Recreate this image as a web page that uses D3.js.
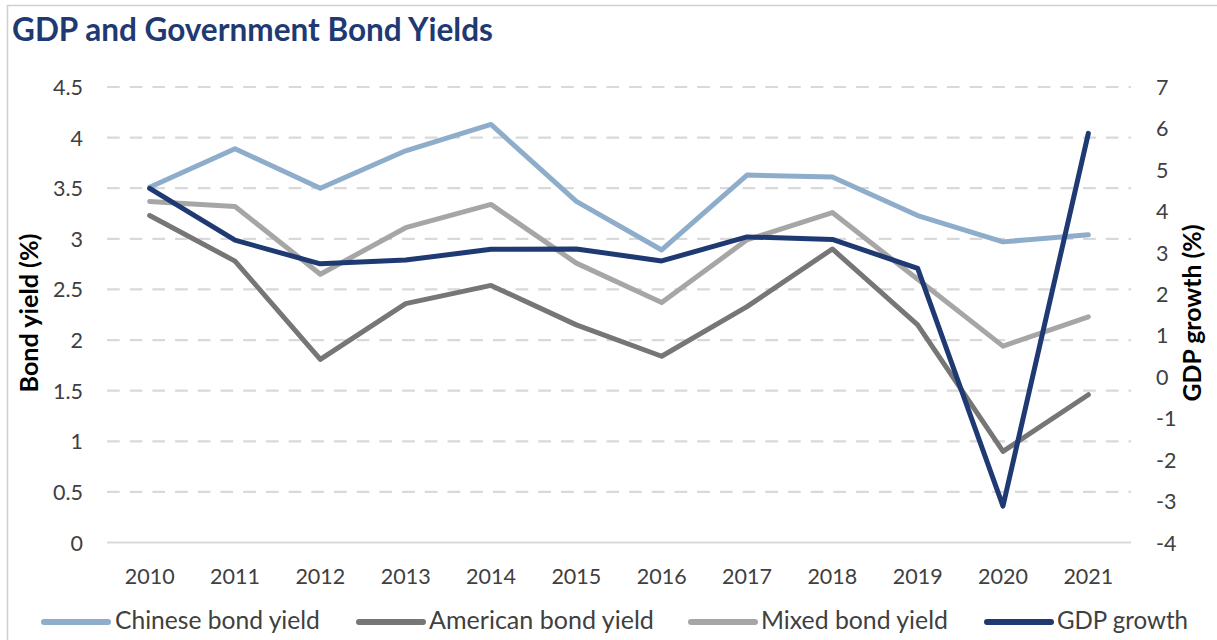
<!DOCTYPE html>
<html>
<head>
<meta charset="utf-8">
<script src="https://cdn.jsdelivr.net/npm/d3@7"></script>
<style>
  html, body { margin: 0; padding: 0; background: #fff; }
  svg { display: block; font-family: Lato, "Open Sans", sans-serif; }
</style>
</head>
<body>
<svg id="chart" width="1217" height="640"></svg>
<script>
const years = ["2010","2011","2012","2013","2014","2015","2016","2017","2018","2019","2020","2021"];
const chineseYield  = [3.51, 3.89, 3.50, 3.87, 4.13, 3.37, 2.89, 3.63, 3.61, 3.23, 2.97, 3.04];
const americanYield = [3.23, 2.78, 1.81, 2.36, 2.54, 2.15, 1.84, 2.33, 2.90, 2.15, 0.90, 1.46];
const mixedYield    = [3.37, 3.32, 2.65, 3.11, 3.34, 2.76, 2.37, 2.99, 3.26, 2.60, 1.94, 2.23];
const gdpGrowth     = [4.55, 3.30, 2.73, 2.82, 3.08, 3.09, 2.80, 3.38, 3.32, 2.62, -3.12, 5.88];
const leftTicks  = [0, 0.5, 1, 1.5, 2, 2.5, 3, 3.5, 4, 4.5];
const rightTicks = [-4, -3, -2, -1, 0, 1, 2, 3, 4, 5, 6, 7];
const seriesNames = ["Chinese bond yield", "American bond yield", "Mixed bond yield", "GDP growth"];

const colors = ["#8EADCB", "#767676", "#A6A6A6", "#1F3A73"];
const textColor = "#404040";

const svg = d3.select("#chart");

// chart frame
svg.append("path")
  .attr("d", "M7.5,640 L7.5,5.5 L1217,5.5")
  .attr("fill", "none").attr("stroke", "#D0D0D0").attr("stroke-width", 1.5);

const plot = { left: 107, right: 1131, top: 87, bottom: 542.5 };

const x = d3.scaleBand().domain(years).range([plot.left, plot.right]);
const yL = d3.scaleLinear().domain([0, 4.5]).range([plot.bottom, plot.top]);
const yR = d3.scaleLinear().domain([-4, 7]).range([plot.bottom, plot.top]);

// gridlines
const grid = svg.append("g");
grid.selectAll("line").data(leftTicks).join("line")
  .attr("x1", plot.left).attr("x2", plot.right)
  .attr("y1", d => yL(d)).attr("y2", d => yL(d))
  .attr("stroke", "#D9D9D9").attr("stroke-width", 2.2)
  .attr("stroke-dasharray", d => d === 0 ? null : "12.7,10");

const tickFont = "21.5px";

// left axis
const leftAxis = d3.axisLeft(yL).tickValues(leftTicks).tickSize(0).tickPadding(0)
  .tickFormat(d => String(d));
const gL = svg.append("g").attr("transform", `translate(83,0)`).call(leftAxis);
gL.select(".domain").remove();
gL.selectAll("text").attr("fill", textColor).style("font-size", tickFont)
  .style("font-family", "Lato, sans-serif").attr("dy", "0.35em");

// right axis
const rightAxis = d3.axisRight(yR).tickValues(rightTicks).tickSize(0).tickPadding(0)
  .tickFormat(d => String(d));
const gR = svg.append("g").attr("transform", `translate(1156,0)`).call(rightAxis);
gR.select(".domain").remove();
gR.selectAll("text").attr("fill", textColor).style("font-size", tickFont)
  .style("font-family", "Lato, sans-serif").attr("dy", "0.35em");

// bottom axis
const bottomAxis = d3.axisBottom(x).tickSize(0).tickPadding(0);
const gB = svg.append("g").attr("transform", `translate(0,569)`).call(bottomAxis);
gB.select(".domain").remove();
gB.selectAll("text").attr("fill", textColor).style("font-size", tickFont)
  .style("font-family", "Lato, sans-serif").attr("dy", "0.71em");

function fitWidth(sel, target) {
  const node = sel.node();
  const fs = parseFloat(sel.style("font-size"));
  const w = node.getComputedTextLength();
  sel.style("font-size", (fs * target / w).toFixed(2) + "px");
}

// title
const title = svg.append("text")
  .attr("x", 12).attr("y", 41)
  .attr("fill", "#1F3A73").attr("font-weight", "bold")
  .style("font-size", "24px")
  .text("GDP and Government Bond Yields");
fitWidth(title, 481);

// axis titles
const lt = svg.append("text")
  .attr("transform", "translate(38,313) rotate(-90)")
  .attr("text-anchor", "middle").attr("font-weight", "bold")
  .attr("fill", "#000").style("font-size", "19px")
  .text("Bond yield (%)");
fitWidth(lt, 159);
const rt = svg.append("text")
  .attr("transform", "translate(1201,313) rotate(-90)")
  .attr("text-anchor", "middle").attr("font-weight", "bold")
  .attr("fill", "#000").style("font-size", "19px")
  .text("GDP growth (%)");
fitWidth(rt, 177);

// lines
const cx = d => x(d) + x.bandwidth() / 2;
const data = [
  { vals: chineseYield, scale: yL },
  { vals: americanYield, scale: yL },
  { vals: mixedYield, scale: yL },
  { vals: gdpGrowth, scale: yR }
];
data.forEach((s, i) => {
  const line = d3.line().x((d, j) => cx(years[j])).y(d => s.scale(d));
  svg.append("path")
    .datum(s.vals)
    .attr("d", line)
    .attr("fill", "none")
    .attr("stroke", colors[i])
    .attr("stroke-width", 5)
    .attr("stroke-linejoin", "round")
    .attr("stroke-linecap", "round");
});

// legend
const legendItems = [
  { sx: 41, tx: 115, w: 205 },
  { sx: 356, tx: 429, w: 225 },
  { sx: 688, tx: 761, w: 187 },
  { sx: 984, tx: 1057, w: 131 }
];
const lg = svg.append("g");
legendItems.forEach((it, i) => {
  lg.append("line")
    .attr("x1", it.sx + 3).attr("x2", it.sx + 67)
    .attr("y1", 622).attr("y2", 622)
    .attr("stroke", colors[i]).attr("stroke-width", 6)
    .attr("stroke-linecap", "round");
  const t = lg.append("text")
    .attr("x", it.tx).attr("y", 629)
    .attr("fill", textColor).style("font-size", "20px")
    .text(seriesNames[i]);
  fitWidth(t, it.w);
});
</script>
</body>
</html>
